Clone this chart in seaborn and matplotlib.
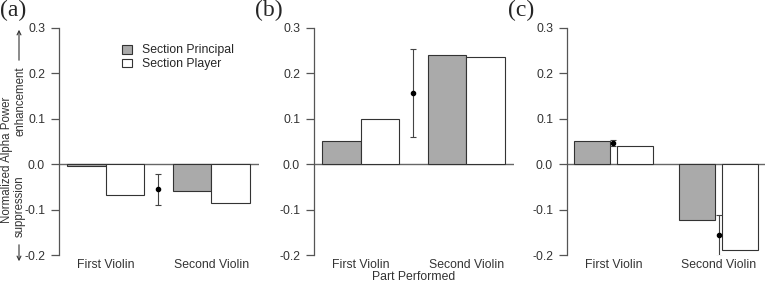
import numpy as np
import pandas as pd
import matplotlib
matplotlib.use('Agg')
import matplotlib.pyplot as plt
import seaborn as sns

sns.set_style('ticks')
plt.rcParams['font.family'] = ['Liberation Sans', 'DejaVu Sans']

parts = ['First Violin', 'Second Violin']
roles = ['Section Principal', 'Section Player']

# bar heights per panel: [principal, player] for each part
vals_a = {'First Violin': [-0.005, -0.068], 'Second Violin': [-0.060, -0.086]}
vals_b = {'First Violin': [0.051, 0.100], 'Second Violin': [0.241, 0.236]}
vals_c = {'First Violin': [0.052, 0.041], 'Second Violin': [-0.124, -0.188]}

# mean points with interval: x position (category units), mean, low, high
err_a = ([0.5], [-0.055], [-0.090], [-0.021])
err_b = ([0.5], [0.157], [0.060], [0.253])
err_c = ([0.0, 1.0], [0.047, -0.157], [0.041, -0.202], [0.053, -0.111])

panel_labels = ['(a)', '(b)', '(c)']
yticks = [-0.2, -0.1, 0.0, 0.1, 0.2, 0.3]


def to_frame(vals):
    rows = []
    for p in parts:
        for r, v in zip(roles, vals[p]):
            rows.append({'part': p, 'role': r, 'value': v})
    return pd.DataFrame(rows)


W, H = 765, 284
FS = 8.8
fig = plt.figure(figsize=(W / 100, H / 100), dpi=100)
ax_px = [(59, 259), (314, 514), (567, 765)]
top_px, bot_px = 28, 255
axes = []
for l, r in ax_px:
    axes.append(fig.add_axes([l / W, (H - bot_px) / H, (r - l) / W, (bot_px - top_px) / H]))

palette = {'Section Principal': '#aaaaaa', 'Section Player': 'white'}
settings = [(vals_a, err_a, 0.726, 0.0, (-0.44, 1.45)),
            (vals_b, err_b, 0.726, 0.0, (-0.44, 1.45)),
            (vals_c, err_c, 0.815, 0.163, (-0.44, 1.44))]

for i, (ax, (vals, err, w, g, xl)) in enumerate(zip(axes, settings)):
    df = to_frame(vals)
    sns.barplot(data=df, x='part', y='value', hue='role', hue_order=roles,
                order=parts, palette=palette, width=w, gap=g, ax=ax,
                edgecolor='#333333', linewidth=0.8, errorbar=None,
                legend=(i == 0))
    ax.axhline(0, color='#666666', lw=1, zorder=0.5)
    x, m, lo, hi = err
    m = np.array(m)
    ax.errorbar(x, m, yerr=[m - np.array(lo), np.array(hi) - m], fmt='o',
                color='black', ms=3, ecolor='#444444', elinewidth=0.8,
                capsize=2.5, capthick=0.8, zorder=5)
    ax.set_ylim(-0.2, 0.3)
    ax.set_xlim(*xl)
    ax.set_yticks(yticks)
    ax.set_yticklabels([f'{t:.1f}' for t in yticks])
    ax.set_xlabel('')
    ax.set_ylabel('')
    for s in ['top', 'right', 'bottom']:
        ax.spines[s].set_visible(False)
    ax.spines['left'].set_color('#555555')
    ax.spines['left'].set_linewidth(0.9)
    ax.tick_params(axis='y', length=6, width=0.9, color='#555555',
                   labelsize=FS, labelcolor='#333333', pad=4)
    ax.tick_params(axis='x', length=0, labelsize=FS, labelcolor='#333333', pad=3)
    ax.patch.set_alpha(0)
    fig.text(ax_px[i][0] / W - 59 / W, 1 - 0 / H, panel_labels[i],
             family='Liberation Serif', fontsize=17, va='top', ha='left')

leg_ax = axes[0]
handles, labels = leg_ax.get_legend_handles_labels()
leg_ax.legend(handles, labels, frameon=False, loc='upper left',
              bbox_to_anchor=(0.28, 0.96), fontsize=FS, handlelength=0.75,
              handleheight=0.75, handletextpad=0.9, labelspacing=0.15,
              borderaxespad=0.2)

YS = 8.3
fig.text(414 / W, 1 - 277 / H, 'Part Performed', ha='center', va='center',
         fontsize=FS, color='#333333')
fig.text(7 / W, 1 - 160 / H, 'Normalized Alpha Power', rotation=90,
         ha='center', va='center', fontsize=YS, color='#333333')
fig.text(20 / W, 1 - 101 / H, 'enhancement', rotation=90,
         ha='center', va='center', fontsize=YS, color='#333333')
fig.text(20 / W, 1 - 206 / H, 'suppression', rotation=90,
         ha='center', va='center', fontsize=YS, color='#333333')
fig.add_artist(matplotlib.patches.FancyArrowPatch(
    (19 / W, 1 - 63 / H), (19 / W, 1 - 27 / H), transform=fig.transFigure,
    arrowstyle='->', mutation_scale=7, color='#333333', lw=0.8))
fig.add_artist(matplotlib.patches.FancyArrowPatch(
    (19 / W, 1 - 242 / H), (19 / W, 1 - 264 / H), transform=fig.transFigure,
    arrowstyle='->', mutation_scale=7, color='#333333', lw=0.8))

fig.savefig('out.png', dpi=100)
